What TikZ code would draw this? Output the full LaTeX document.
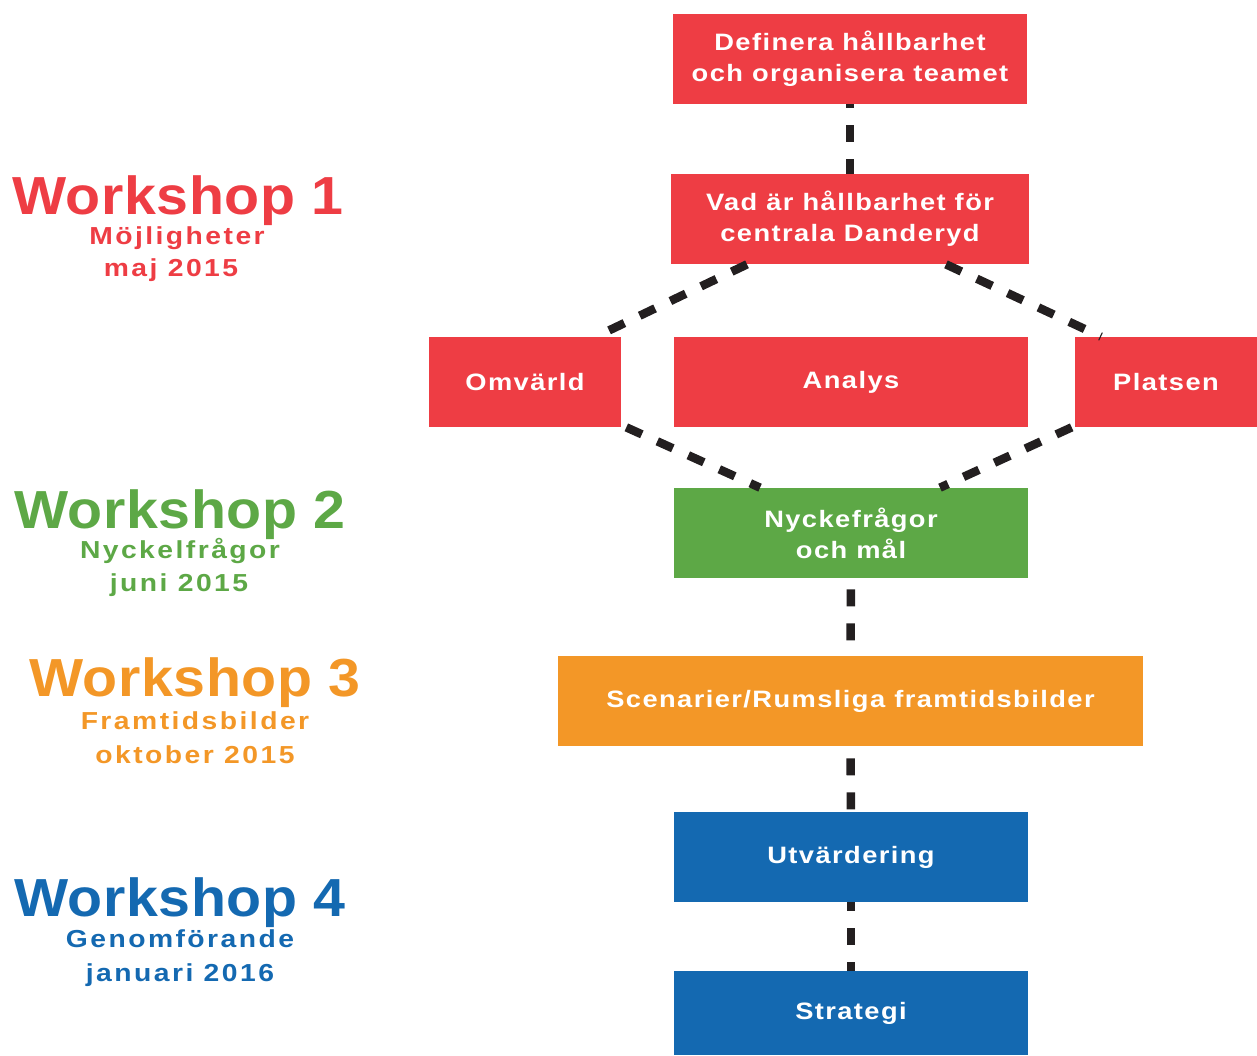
\documentclass[tikz,border=0pt]{standalone}
\usepackage{fontspec}
\setmainfont{Liberation Sans}
\newfontfamily\boxfont{Liberation Sans}[FakeStretch=1.15,LetterSpace=6]
\newfontfamily\wsfont{Liberation Sans}[FakeStretch=1.07,LetterSpace=1]
\newfontfamily\notefont{Liberation Sans}[FakeStretch=1.15,LetterSpace=10]
\definecolor{wsred}{HTML}{EE3D44}
\definecolor{wsgreen}{HTML}{5DA846}
\definecolor{wsorange}{HTML}{F39727}
\definecolor{wsblue}{HTML}{1469B1}
\definecolor{lineblack}{HTML}{231F20}
\begin{document}
\begin{tikzpicture}[x=0.02cm,y=-0.02cm]
	\tikzstyle{task}=[rectangle,inner sep=0pt,minimum width=7.08cm,minimum height=1.8cm,text=white,align=center,font=\boxfont\bfseries\fontsize{13.5}{17.6}\selectfont]
	\tikzstyle{edge}=[draw=lineblack,line width=0.17cm,dash pattern=on 0.34cm off 0.34cm]
	\tikzstyle{wstitle}=[anchor=base,inner sep=0pt,font=\wsfont\bfseries\fontsize{30.5}{36}\selectfont]
	\tikzstyle{wsnote}=[anchor=base,inner sep=0pt,font=\notefont\bfseries\fontsize{14}{16}\selectfont]
	\useasboundingbox (0,0) rectangle (1257,1055);
	\begin{scope}
		% workshop labels
		\node [wstitle,text=wsred] (w1) at (178,214) {Workshop 1};
		\node [wsnote,text=wsred] (w1a) at (177,244) {Möjligheter};
		\node [wsnote,text=wsred] (w1b) at (171,276) {maj 2015};
		\node [wstitle,text=wsgreen] (w2) at (180,528) {Workshop 2};
		\node [wsnote,text=wsgreen] (w2a) at (180,558) {Nyckelfrågor};
		\node [wsnote,text=wsgreen] (w2b) at (179,591) {juni 2015};
		\node [wstitle,text=wsorange] (w3) at (195,696) {Workshop 3};
		\node [wsnote,text=wsorange] (w3a) at (195,729) {Framtidsbilder};
		\node [wsnote,text=wsorange] (w3b) at (195,763) {oktober 2015};
		\node [wstitle,text=wsblue] (w4) at (180,916) {Workshop 4};
		\node [wsnote,text=wsblue] (w4a) at (180,947) {Genomförande};
		\node [wsnote,text=wsblue] (w4b) at (180,981) {januari 2016};
		% process boxes
		\node [task,fill=wsred] (t1) at (850,59) {Definera hållbarhet\\och organisera teamet};
		\node [task,fill=wsred,minimum width=7.16cm] (t2) at (850,219) {Vad är hållbarhet för\\centrala Danderyd};
		\node [task,fill=wsred,minimum width=3.84cm] (t3) at (525,382) {Omvärld};
		\node [task,fill=wsred] (t4) at (851,382) {Analys};
		\node [task,fill=wsred,minimum width=3.64cm] (t5) at (1166,382) {Platsen};
		\node [task,fill=wsgreen] (t6) at (851,533) {Nyckefrågor\\och mål};
		\node [task,fill=wsorange,minimum width=11.7cm] (t7) at (850.5,701) {Scenarier/Rumsliga framtidsbilder};
		\node [task,fill=wsblue] (t8) at (851,857) {Utvärdering};
		\node [task,fill=wsblue,minimum height=1.68cm] (t9) at (851,1013) {Strategi};
		% dashed links
		\path[edge,dash phase=0.26cm] (t1) edge (t2);
		\path[edge] ([xshift=-2.06cm]t2.south) edge ([xshift=1.42cm]t3.north);
		\path[edge] ([xshift=1.92cm]t2.south) edge ([xshift=-1.30cm]t5.north);
		\path[edge] ([xshift=0.1cm]t3.south east) edge ([xshift=-1.82cm]t6.north);
		\path[edge] ([xshift=-0.06cm]t5.south west) edge ([xshift=1.78cm]t6.north);
		\path[edge,dash phase=0.46cm] (t6) edge (t7);
		\path[edge,dash phase=0.44cm] (t7) edge (t8);
		\path[edge,dash phase=0.16cm] (t8) edge (t9);
	\end{scope}
\end{tikzpicture}
\end{document}
